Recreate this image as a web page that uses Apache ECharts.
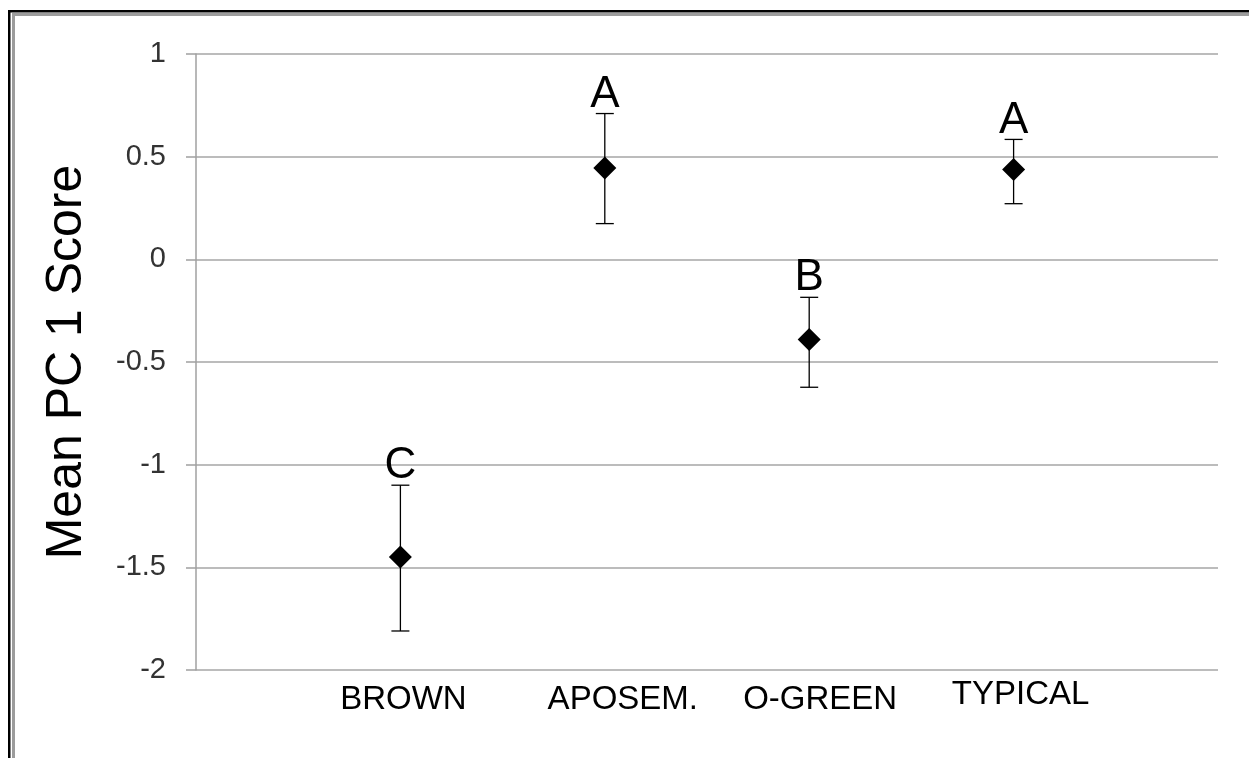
<!DOCTYPE html>
<html>
<head>
<meta charset="utf-8">
<script src="https://cdn.jsdelivr.net/npm/echarts@6/dist/echarts.min.js"></script>
<style>
  html, body { margin: 0; padding: 0; background: #fff; }
  #chart { width: 1249px; height: 758px; }
</style>
</head>
<body>
<div id="chart"></div>
<script>
// groups along the x axis (placed at 1..4 on a 0..5 value axis)
var groups = ['BROWN', 'APOSEM.', 'O-GREEN', 'TYPICAL'];
var means  = [-1.45, 0.445, -0.39, 0.437];
var upper  = [-1.10, 0.71, -0.185, 0.584];
var lower  = [-1.81, 0.174, -0.623, 0.271];
var letters = ['C', 'A', 'B', 'A'];
var yTicks = [-2, -1.5, -1, -0.5, 0, 0.5, 1];

var myChart = echarts.init(document.getElementById('chart'));

var pointData = means.map(function (m, i) { return [i + 1, m]; });
var barData = means.map(function (m, i) { return [i + 1, lower[i], upper[i], i]; });

var axisGray = '#a0a0a0';

option = {
    backgroundColor: '#fff',
    animation: false,
    textStyle: { fontFamily: '"Liberation Sans", Arial, sans-serif' },
    graphic: [
        { type: 'rect', shape: { x: 8, y: 10, width: 1241, height: 2.5 }, style: { fill: '#000' } },
        { type: 'rect', shape: { x: 8, y: 10, width: 2.5, height: 748 }, style: { fill: '#000' } },
        { type: 'rect', shape: { x: 12, y: 13, width: 1237, height: 3 }, style: { fill: '#9c9c9c' } },
        { type: 'rect', shape: { x: 12, y: 13, width: 3, height: 745 }, style: { fill: '#9c9c9c' } }
    ],
    grid: { left: 196, right: 31, top: 54, bottom: 88 },
    xAxis: {
        type: 'value',
        min: 0,
        max: 5,
        interval: 1,
        axisLine: { show: false },
        axisTick: { show: false },
        splitLine: { show: false },
        axisLabel: {
            margin: 8,
            color: '#000',
            fontSize: 33,
            formatter: function (v) {
                var i = v - 1;
                if (i < 0 || i >= groups.length) return '';
                return '{g' + i + '|' + groups[i] + '}';
            },
            rich: {
                g0: { fontSize: 33, color: '#000', padding: [5, 0, 0, 6] },
                g1: { fontSize: 33, color: '#000', padding: [5, 0, 0, 36] },
                g2: { fontSize: 33, color: '#000', padding: [5, 0, 0, 22] },
                g3: { fontSize: 33, color: '#000', padding: [0, 0, 0, 14] }
            }
        }
    },
    yAxis: {
        type: 'value',
        min: yTicks[0],
        max: yTicks[yTicks.length - 1],
        interval: 0.5,
        name: 'Mean PC 1 Score',
        nameLocation: 'middle',
        nameGap: 104,
        nameTextStyle: { fontSize: 50, color: '#000' },
        axisLine: { show: true, lineStyle: { color: axisGray, width: 1.5 } },
        axisTick: { show: true, length: 10, lineStyle: { color: axisGray, width: 1.5 } },
        splitLine: { show: true, lineStyle: { color: '#a6a6a6', width: 1.5 } },
        axisLabel: { margin: 30, fontSize: 29, color: '#333' }
    },
    series: [
        {
            name: 'error',
            type: 'custom',
            data: barData,
            z: 2,
            renderItem: function (params, api) {
                var x = api.value(0);
                var lo = api.coord([x, api.value(1)]);
                var hi = api.coord([x, api.value(2)]);
                var cap = 9;
                var st = { stroke: '#000', lineWidth: 1.3 };
                return {
                    type: 'group',
                    children: [
                        { type: 'line', shape: { x1: hi[0], y1: hi[1], x2: lo[0], y2: lo[1] }, style: st },
                        { type: 'line', shape: { x1: hi[0] - cap, y1: hi[1], x2: hi[0] + cap, y2: hi[1] }, style: st },
                        { type: 'line', shape: { x1: lo[0] - cap, y1: lo[1], x2: lo[0] + cap, y2: lo[1] }, style: st },
                        {
                            type: 'text',
                            x: hi[0],
                            y: hi[1] + 3,
                            style: {
                                text: letters[api.value(3)],
                                fill: '#000',
                                font: '44px "Liberation Sans", Arial, sans-serif',
                                align: 'center',
                                verticalAlign: 'bottom'
                            }
                        }
                    ]
                };
            }
        },
        {
            name: 'mean',
            type: 'scatter',
            data: pointData,
            symbol: 'diamond',
            symbolSize: 23,
            z: 3,
            itemStyle: { color: '#000', opacity: 1 }
        }
    ]
};

myChart.setOption(option);
</script>
</body>
</html>
